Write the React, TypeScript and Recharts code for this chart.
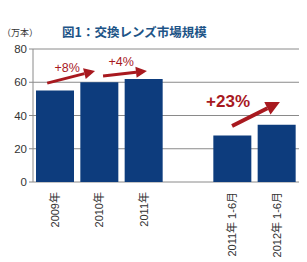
import React from 'react';
import { BarChart, Bar, XAxis, YAxis, CartesianGrid, ReferenceLine, ReferenceDot } from 'recharts';

// categories (empty slot separates the half-year bars)
const categories = ['2009年', '2010年', '2011年', '', '2011年 1-6月', '2012年 1-6月'];
const units = [55, 60, 62, null, 28, 34.5];
const yTicks = [0, 20, 40, 60, 80];
const slotTicks = [0, 1, 2, 3, 4, 5, 6];

// growth annotations: label text, label position, arrow start / end (slot units, value units)
const growthLabels = ['+8%', '+4%', '+23%'];
const labelPos = [[0.77, 68.3], [1.99, 72.2], [4.4, 48.7]];
const arrowFrom = [[0.32, 59.5], [1.58, 63.8], [4.49, 33.7]];
const arrowTo = [[1.4, 66.8], [2.57, 66.8], [5.57, 48.1]];

// slot centre used by the helper numeric axis
const data = categories.map((c, i) => ({ name: c, value: units[i], slot: i + 0.5 }));

const BAR = '#0d3c7d';
const RED = '#a8191f';
const FONT = '"Liberation Sans", Arial, "Noto Sans CJK JP", sans-serif';

const Arrow = (props: any) => {
  const { x1, y1, x2, y2, big } = props;
  const ang = Math.atan2(y2 - y1, x2 - x1);
  const head = big ? 14 : 11;
  const half = big ? 7 : 5.5;
  const bx = x2 - head * Math.cos(ang);
  const by = y2 - head * Math.sin(ang);
  const px = -Math.sin(ang) * half;
  const py = Math.cos(ang) * half;
  return (
    <g>
      <line x1={x1} y1={y1} x2={bx} y2={by} stroke={RED} strokeWidth={big ? 4 : 3} />
      <polygon points={`${x2},${y2} ${bx + px},${by + py} ${bx - px},${by - py}`} fill={RED} />
    </g>
  );
};

const CategoryTick = (props: any) => {
  const { x, y, payload } = props;
  return (
    <g transform={`translate(${x},${y + 2})`}>
      <text
        transform="rotate(-90)"
        textAnchor="end"
        dy="0.35em"
        fontSize={11}
        fill="#333"
        fontFamily={FONT}
      >
        {payload.value}
      </text>
    </g>
  );
};

const NoLabel = () => <g />;

const App = () => {
  return (
    <div style={{ position: 'absolute', left: 0, top: 0, width: 307, height: 262, background: '#fff' }}>
      <div
        style={{
          position: 'absolute',
          left: 2,
          top: 26,
          fontSize: 9,
          color: '#333',
          fontFamily: '"Noto Sans CJK JP", sans-serif',
          whiteSpace: 'nowrap',
        }}
      >
        （万本）
      </div>
      <div
        style={{
          position: 'absolute',
          left: 62,
          top: 22,
          fontSize: 12.5,
          fontWeight: 'bold',
          color: '#1d5487',
          fontFamily: '"Noto Sans CJK JP", sans-serif',
          whiteSpace: 'nowrap',
        }}
      >
        図1：交換レンズ市場規模
      </div>
      <BarChart
        width={307}
        height={262}
        data={data}
        margin={{ top: 49, right: 8, bottom: 0, left: 0 }}
        barSize={38}
      >
        <CartesianGrid vertical={false} stroke="#8a8a8a" />
        <XAxis
          xAxisId="n"
          dataKey="slot"
          type="number"
          domain={[0, 6]}
          allowDataOverflow
          ticks={slotTicks}
          interval={0}
          tick={<NoLabel />}
          height={0}
          tickSize={4}
          stroke="#8a8a8a"
        />
        <XAxis
          dataKey="name"
          interval={0}
          axisLine={false}
          tickLine={false}
          height={80}
          tick={<CategoryTick />}
        />
        <YAxis
          width={33}
          domain={[0, 80]}
          ticks={yTicks}
          tickSize={4}
          stroke="#8a8a8a"
          tick={{ fontSize: 11.5, fill: '#333', fontFamily: FONT }}
        />
        <Bar dataKey="value" fill={BAR} isAnimationActive={false} />
        {growthLabels.map((g, i) => (
          <ReferenceLine
            key={'a' + i}
            xAxisId="n"
            ifOverflow="visible"
            segment={[
              { x: arrowFrom[i][0], y: arrowFrom[i][1] },
              { x: arrowTo[i][0], y: arrowTo[i][1] },
            ]}
            shape={(p: any) => <Arrow {...p} big={i === 2} />}
          />
        ))}
        {growthLabels.map((g, i) => (
          <ReferenceDot
            key={'l' + i}
            xAxisId="n"
            x={labelPos[i][0]}
            y={labelPos[i][1]}
            r={0}
            ifOverflow="visible"
            shape={(p: any) => (
              <text
                x={p.cx}
                y={p.cy}
                textAnchor="middle"
                dominantBaseline="central"
                fill={RED}
                fontSize={i === 2 ? 17 : 12.5}
                fontWeight={i === 2 ? 'bold' : 'normal'}
                fontFamily={FONT}
              >
                {g}
              </text>
            )}
          />
        ))}
      </BarChart>
    </div>
  );
};

export default App;
